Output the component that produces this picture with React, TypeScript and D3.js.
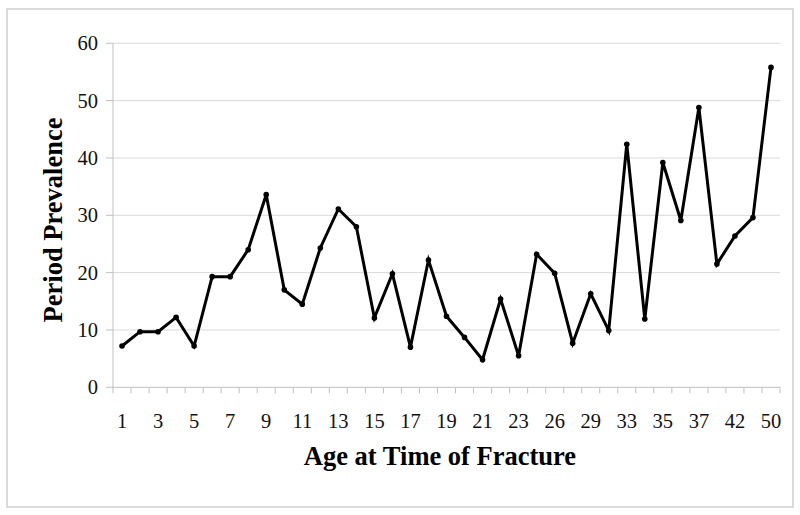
import React from "react";
import * as d3 from "d3";

// age categories (every other one gets a label)
const ages = [
  "1", "2", "3", "4", "5", "6", "7", "8", "9", "10", "11", "12", "13", "14", "15", "16",
  "17", "18", "19", "20", "21", "22", "23", "25", "26", "28", "29", "31", "33", "34",
  "35", "36", "37", "40", "42", "45", "50",
];
const prevalence = [
  7.2, 9.7, 9.7, 12.2, 7.2, 19.3, 19.3, 24.0, 33.6, 17.0, 14.5, 24.3, 31.1, 28.0, 12.1, 19.8,
  7.0, 22.2, 12.4, 8.7, 4.8, 15.4, 5.5, 23.2, 19.9, 7.7, 16.3, 9.9, 42.4, 11.9,
  39.2, 29.1, 48.8, 21.5, 26.4, 29.6, 55.8,
];
const yTicks = [0, 10, 20, 30, 40, 50, 60];

export default function App() {
  const width = 800;
  const height = 515;
  const left = 113;
  const right = 780;
  const top = 43.3;
  const bottom = 387.3;

  const x = d3.scaleBand<string>().domain(ages).range([left, right]).padding(0);
  const y = d3.scaleLinear().domain([0, 60]).range([bottom, top]);
  const cx = (a: string) => (x(a) as number) + x.bandwidth() / 2;

  const line = d3
    .line<number>()
    .x((_, i) => cx(ages[i]))
    .y((d) => y(d));

  const font = "'Liberation Serif', 'Times New Roman', serif";

  return (
    <svg width={width} height={height} style={{ position: "absolute", left: 0, top: 0 }} fontFamily={font}>
      <rect x={0} y={0} width={width} height={height} fill="#fff" />
      <rect x={7} y={9} width={786} height={498} fill="none" stroke="#c8c8c8" strokeWidth={1.3} />

      {/* gridlines and y ticks */}
      {yTicks.map((t) => (
        <g key={t}>
          {t > 0 && <line x1={left} x2={right} y1={y(t)} y2={y(t)} stroke="#d9d9d9" strokeWidth={1} />}
          <line x1={106} x2={left} y1={y(t)} y2={y(t)} stroke="#bfbfbf" strokeWidth={1} />
          <text x={98} y={y(t)} dy="0.35em" textAnchor="end" fontSize={20.5} fill="#111">
            {t}
          </text>
        </g>
      ))}

      {/* axes */}
      <line x1={left} x2={left} y1={top} y2={bottom} stroke="#bfbfbf" strokeWidth={1} />
      <line x1={left} x2={right} y1={bottom} y2={bottom} stroke="#bfbfbf" strokeWidth={1} />
      {ages.map((a) => (
        <line key={"t" + a} x1={x(a)} x2={x(a)} y1={bottom} y2={bottom + 6} stroke="#bfbfbf" strokeWidth={1} />
      ))}
      <line x1={right} x2={right} y1={bottom} y2={bottom + 6} stroke="#bfbfbf" strokeWidth={1} />

      {ages.map((a, i) =>
        i % 2 === 0 ? (
          <text key={"l" + a} x={cx(a)} y={428} textAnchor="middle" fontSize={20.5} fill="#111">
            {a}
          </text>
        ) : null
      )}

      <path d={line(prevalence) || ""} fill="none" stroke="#000" strokeWidth={3} strokeLinejoin="miter" />
      {prevalence.map((v, i) => (
        <circle key={"c" + i} cx={cx(ages[i])} cy={y(v)} r={2.8} fill="#000" />
      ))}

      <text x={440} y={465} textAnchor="middle" fontSize={26.5} fontWeight="bold" fill="#000">
        Age at Time of Fracture
      </text>
      <text
        transform="translate(62,220) rotate(-90)"
        textAnchor="middle"
        fontSize={26.5}
        fontWeight="bold"
        fill="#000"
      >
        Period Prevalence
      </text>
    </svg>
  );
}
